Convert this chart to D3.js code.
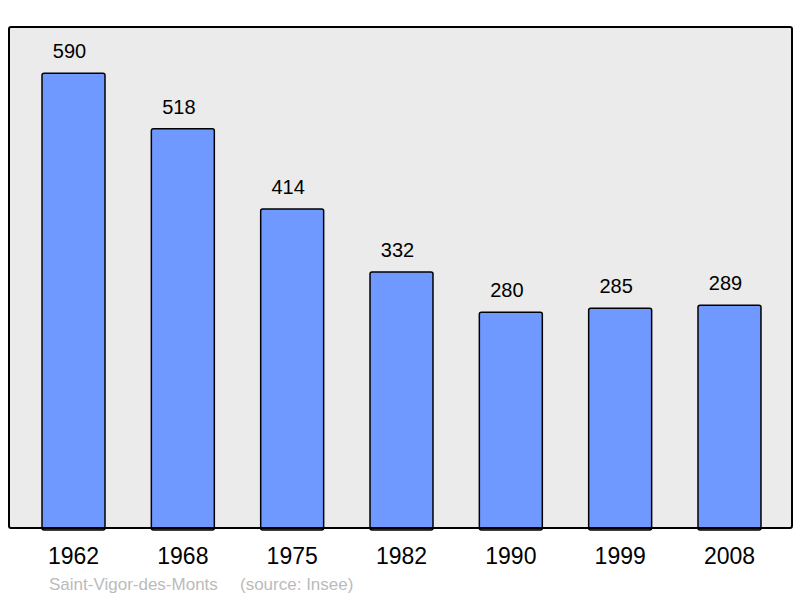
<!DOCTYPE html>
<html>
<head>
<meta charset="utf-8">
<script src="https://cdn.jsdelivr.net/npm/d3@7"></script>
<style>
    body { margin: 0; background: #fff; }
    text { font-family: "Liberation Sans", Arial, sans-serif; }
</style>
</head>
<body>
<div id="chart"></div>
<script>
var years = ["1962", "1968", "1975", "1982", "1990", "1999", "2008"];
var population = [590, 518, 414, 332, 280, 285, 289];
var placeName = "Saint-Vigor-des-Monts";
var sourceLabel = "(source: Insee)";

var width = 800,
    height = 598;
var frame = { left: 9, top: 27, right: 792, bottom: 528 };

var svg = d3.select("#chart").append("svg")
    .attr("width", width)
    .attr("height", height);

var x = d3.scaleBand()
    .domain(years)
    .range([frame.left, frame.right + 2])
    .paddingInner(0.424)
    .paddingOuter(0.302);

var y = d3.scaleLinear()
    .domain([0, 650])
    .range([frame.bottom, frame.top]);

// plot background
svg.append("rect")
    .attr("x", frame.left)
    .attr("y", frame.top)
    .attr("width", frame.right - frame.left)
    .attr("height", frame.bottom - frame.top)
    .attr("rx", 2)
    .attr("fill", "#ebebeb");

var bars = svg.selectAll(".bar")
    .data(population)
    .enter().append("g")
    .attr("class", "bar");

bars.append("rect")
    .attr("x", function(d, i) { return x(years[i]); })
    .attr("y", function(d) { return y(d); })
    .attr("width", x.bandwidth())
    .attr("height", function(d) { return y(0) - y(d) + 2; })
    .attr("rx", 2)
    .attr("fill", "#7099ff")
    .attr("stroke", "#000")
    .attr("stroke-width", 1.5);

// value labels sit a little left of the bar centre, as in the original
bars.append("text")
    .attr("x", function(d, i) { return x(years[i]) + x.bandwidth() / 2 - 4; })
    .attr("y", function(d) { return y(d) - 15; })
    .attr("text-anchor", "middle")
    .attr("font-size", "20px")
    .attr("fill", "#000")
    .text(function(d) { return d; });

// frame on top of bars
svg.append("rect")
    .attr("x", frame.left)
    .attr("y", frame.top)
    .attr("width", frame.right - frame.left)
    .attr("height", frame.bottom - frame.top)
    .attr("rx", 2)
    .attr("fill", "none")
    .attr("stroke", "#000")
    .attr("stroke-width", 2);

var xAxis = d3.axisBottom(x).tickSize(0).tickPadding(0);
svg.append("g")
    .attr("transform", "translate(0," + (frame.bottom + 36) + ")")
    .call(xAxis)
    .call(function(g) { g.select(".domain").remove(); })
    .selectAll("text")
    .attr("dy", 0)
    .attr("font-size", "23px")
    .attr("font-family", "'Liberation Sans', Arial, sans-serif")
    .attr("fill", "#000");

svg.append("text")
    .attr("x", 49)
    .attr("y", 590)
    .attr("font-size", "17px")
    .attr("fill", "#bbbbbb")
    .text(placeName);

svg.append("text")
    .attr("x", 240)
    .attr("y", 590)
    .attr("font-size", "17px")
    .attr("fill", "#bbbbbb")
    .text(sourceLabel);
</script>
</body>
</html>
